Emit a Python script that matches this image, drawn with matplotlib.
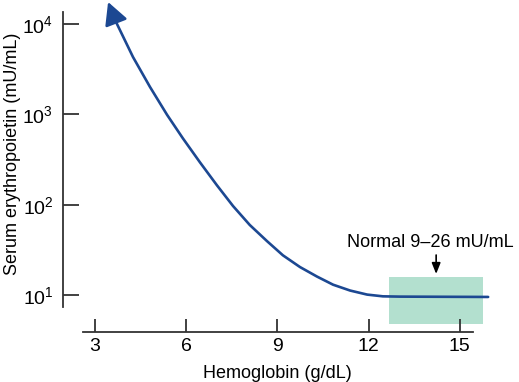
import numpy as np
import matplotlib
matplotlib.use('Agg')
from matplotlib import pyplot as plt

# Data
hemoglobin = [3.43, 3.66, 4.25, 4.81, 5.37, 5.89, 6.45, 7.01, 7.54, 8.09, 8.66,
              9.18, 9.74, 10.30, 10.83, 11.39, 11.95, 12.47, 13.03, 15.93]
epo = [17580, 11090, 4315, 2009, 989, 543, 295, 164, 96.6, 59.6, 39.4,
       27.5, 20.4, 16.0, 13.0, 11.2, 10.1, 9.66, 9.59, 9.51]
x_ticks = [3, 6, 9, 12, 15]
y_ticks = [10, 100, 1000, 10000]
y_ticklabels = ['$\\mathregular{10^1}$', '$\\mathregular{10^2}$',
                '$\\mathregular{10^3}$', '$\\mathregular{10^4}$']
normal_hb = (12.67, 15.76)
normal_epo = (4.8, 15.8)
normal_text = 'Normal 9\u201326 mU/mL'

plt.rcParams['font.family'] = ['Liberation Sans', 'DejaVu Sans']
plt.rcParams['mathtext.fontset'] = 'custom'
plt.rcParams['mathtext.rm'] = 'Liberation Sans'
plt.rcParams['font.size'] = 13

fig = plt.figure(figsize=(5.19, 3.82), dpi=100)
ax = fig.add_axes([63 / 519, 50 / 382, 437 / 519, 332 / 382])
ax.set_yscale('log')
ax.set_xlim(1.947, 16.32)
ax.set_ylim(10 ** 0.590, 10 ** 4.267)

line_col = '#1c4892'
axis_col = '#333333'

# normal range box
ax.fill_between(normal_hb, normal_epo[0], normal_epo[1], color='#b3e0cf', lw=0, zorder=1)

# curve with arrowhead at the high end
ax.plot(hemoglobin[1:], epo[1:], color=line_col, lw=1.9, zorder=3,
        solid_capstyle='round', solid_joinstyle='round')
ax.annotate('', xy=(hemoglobin[0], epo[0]), xytext=(hemoglobin[1], epo[1]),
            arrowprops=dict(arrowstyle='-|>,head_length=1.05,head_width=0.55',
                            color=line_col, lw=1.9, shrinkA=0, shrinkB=0),
            annotation_clip=False, zorder=3)

ax.text(11.29, 38.6, normal_text, ha='left', va='center', fontsize=13)
ax.annotate('', xy=(14.22, 17.1), xytext=(14.22, 27.7),
            arrowprops=dict(arrowstyle='-|>,head_length=0.5,head_width=0.2',
                            color='black', lw=1.2, shrinkA=0, shrinkB=0))

for s in ['top', 'right']:
    ax.spines[s].set_visible(False)
ax.spines['left'].set_bounds(10 ** 0.867, 10 ** 4.133)
ax.spines['bottom'].set_bounds(2.6, 15.43)
for s in ['left', 'bottom']:
    ax.spines[s].set_color(axis_col)
    ax.spines[s].set_linewidth(1.3)

ax.set_xticks(x_ticks)
ax.set_yticks(y_ticks)
ax.set_yticklabels(y_ticklabels)
ax.yaxis.set_minor_locator(matplotlib.ticker.NullLocator())
ax.tick_params(axis='y', direction='in', length=11.5, width=1.3, color=axis_col,
               pad=7, labelsize=14)
ax.tick_params(axis='x', direction='in', length=9.4, width=1.3, color=axis_col,
               pad=4, labelsize=14)

ax.set_xlabel('Hemoglobin (g/dL)')
ax.xaxis.set_label_coords(0.491, -0.1)
ax.set_ylabel('Serum erythropoietin (mU/mL)')
ax.yaxis.set_label_coords(-0.096, 0.536)

fig.savefig('out.png', dpi=100)
